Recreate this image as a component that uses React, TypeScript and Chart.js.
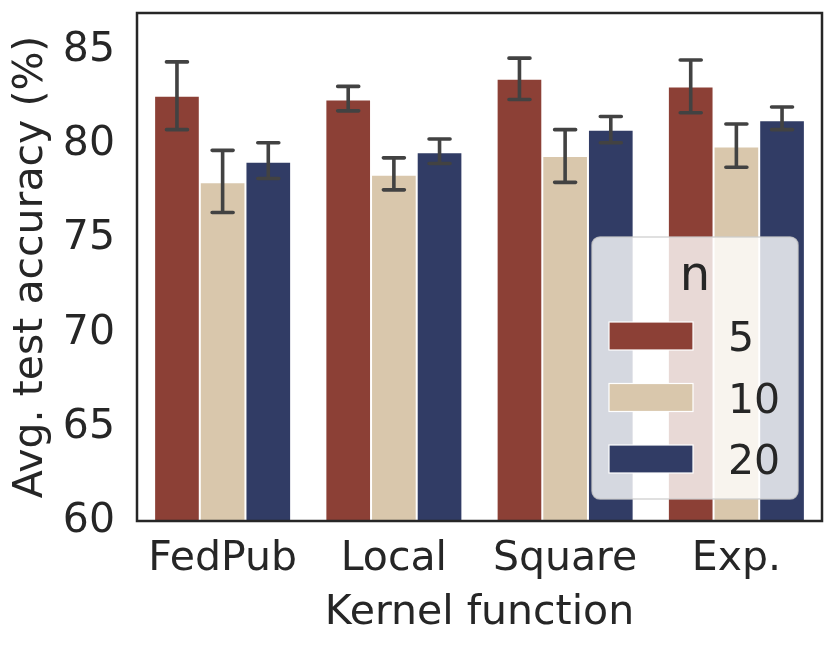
import { useEffect, useRef } from "react";
import { Chart, registerables } from "chart.js";

Chart.register(...registerables);

const categories = ["FedPub", "Local", "Square", "Exp."];
const groupLabels = ["5", "10", "20"];
const colors = ["#8C4036", "#D9C7AC", "#313C65"];

// mean accuracy per kernel, for n = 5 / 10 / 20
const acc5 = [82.6, 82.4, 83.5, 83.1];
const acc10 = [78.0, 78.4, 79.4, 79.9];
const acc20 = [79.1, 79.6, 80.8, 81.3];

// error bar ends
const lo5 = [80.8, 81.8, 82.4, 81.7];
const hi5 = [84.4, 83.1, 84.6, 84.5];
const lo10 = [76.4, 77.6, 78.0, 78.8];
const hi10 = [79.7, 79.3, 80.8, 81.1];
const lo20 = [78.2, 79.0, 80.1, 80.8];
const hi20 = [80.1, 80.3, 81.5, 82.0];

const yTicks = [60, 65, 70, 75, 80, 85];
const yMin = 60;
const yMax = 87;

const TEXT = "#262626";
const FONT = "DejaVu Sans";

const values = [acc5, acc10, acc20];
const lows = [lo5, lo10, lo20];
const highs = [hi5, hi10, hi20];

const errorBars = {
  id: "errorBars",
  afterDatasetsDraw(chart: Chart) {
    const ctx = chart.ctx;
    const y = chart.scales.y;
    ctx.save();
    ctx.strokeStyle = "#424242";
    ctx.lineWidth = 3.6;
    ctx.lineCap = "round";
    values.forEach((_, i) => {
      const meta = chart.getDatasetMeta(i);
      meta.data.forEach((bar: any, j: number) => {
        const x = bar.x;
        const top = y.getPixelForValue(highs[i][j]);
        const bot = y.getPixelForValue(lows[i][j]);
        ctx.beginPath();
        ctx.moveTo(x, top);
        ctx.lineTo(x, bot);
        ctx.moveTo(x - 10.5, top);
        ctx.lineTo(x + 10.5, top);
        ctx.moveTo(x - 10.5, bot);
        ctx.lineTo(x + 10.5, bot);
        ctx.stroke();
      });
    });
    // axes frame
    const a = chart.chartArea;
    ctx.strokeStyle = TEXT;
    ctx.lineWidth = 2.5;
    ctx.lineCap = "butt";
    ctx.strokeRect(a.left, a.top, a.right - a.left, a.bottom - a.top);
    ctx.restore();
  },
};

const boxLegend = {
  id: "boxLegend",
  afterDraw(chart: Chart) {
    const ctx = chart.ctx;
    const a = chart.chartArea;
    const right = a.right - 24;
    const bottom = a.bottom - 22;
    const w = 206;
    const h = 262;
    const left = right - w;
    const top = bottom - h;
    ctx.save();
    ctx.beginPath();
    ctx.roundRect(left, top, w, h, 8);
    ctx.fillStyle = "rgba(255,255,255,0.8)";
    ctx.fill();
    ctx.strokeStyle = "rgba(204,204,204,0.8)";
    ctx.lineWidth = 1.5;
    ctx.stroke();

    ctx.fillStyle = TEXT;
    ctx.textAlign = "center";
    ctx.textBaseline = "alphabetic";
    ctx.font = `48px "${FONT}"`;
    ctx.fillText("n", left + w / 2, top + 53);

    ctx.font = `41px "${FONT}"`;
    ctx.textAlign = "left";
    groupLabels.forEach((lab, i) => {
      const cy = top + 99 + i * 61.5;
      ctx.fillStyle = colors[i];
      ctx.fillRect(left + 17, cy - 14, 84, 28);
      ctx.strokeStyle = "#ffffff";
      ctx.lineWidth = 1.2;
      ctx.strokeRect(left + 17, cy - 14, 84, 28);
      ctx.fillStyle = TEXT;
      ctx.fillText(lab, left + 136, cy + 15);
    });
    ctx.restore();
  },
};

export default function App() {
  const canvasRef = useRef<HTMLCanvasElement>(null);
  const chartRef = useRef<Chart | null>(null);

  useEffect(() => {
    document.body.style.margin = "0";
    const el = canvasRef.current;
    if (!el) return;
    chartRef.current?.destroy();

    chartRef.current = new Chart(el, {
      type: "bar",
      data: {
        labels: categories,
        datasets: values.map((v, i) => ({
          label: groupLabels[i],
          data: v,
          backgroundColor: colors[i],
          borderColor: "#ffffff",
          borderWidth: 1,
          categoryPercentage: 0.8,
          barPercentage: 1.0,
        })),
      },
      options: {
        responsive: false,
        animation: false,
        devicePixelRatio: 1,
        layout: { padding: { top: 13, right: 9, left: 0, bottom: 0 } },
        plugins: {
          legend: { display: false },
          tooltip: { enabled: false },
        },
        scales: {
          x: {
            grid: { display: false, drawTicks: false },
            border: { display: false },
            ticks: {
              color: TEXT,
              padding: 14,
              font: { family: FONT, size: 41 },
              maxRotation: 0,
            },
            title: {
              display: true,
              text: "Kernel function",
              color: TEXT,
              font: { family: FONT, size: 41 },
              padding: { top: 0, bottom: 7 },
            },
            afterFit: (s: any) => {
              s.height = 124;
              s.paddingLeft = 0;
              s.paddingRight = 0;
            },
          },
          y: {
            min: yMin,
            max: yMax,
            grid: { display: false, drawTicks: false },
            border: { display: false },
            afterBuildTicks: (s: any) => {
              s.ticks = yTicks.map((v) => ({ value: v }));
            },
            ticks: {
              color: TEXT,
              padding: 22,
              font: { family: FONT, size: 41 },
            },
            title: {
              display: true,
              text: "Avg. test accuracy (%)",
              color: TEXT,
              font: { family: FONT, size: 41 },
              padding: { top: 7, bottom: 0 },
            },
            afterFit: (s: any) => {
              s.width = 137;
              s.paddingTop = 0;
              s.paddingBottom = 0;
            },
          },
        },
      },
      plugins: [errorBars, boxLegend],
    });

    return () => {
      chartRef.current?.destroy();
      chartRef.current = null;
    };
  }, []);

  return (
    <div style={{ width: 831, height: 645, background: "#fff" }}>
      <canvas ref={canvasRef} width={831} height={645} style={{ display: "block" }} />
    </div>
  );
}
